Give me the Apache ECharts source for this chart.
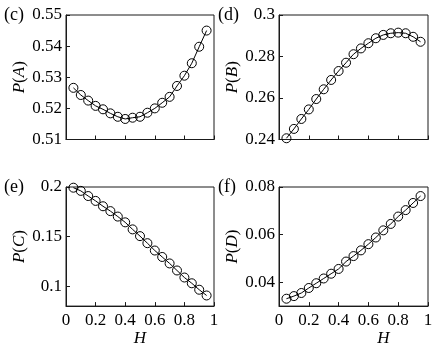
<!DOCTYPE html>
<html>
<head>
<meta charset="utf-8">
<script src="https://cdn.jsdelivr.net/npm/echarts@6/dist/echarts.min.js"></script>
<style>html,body{margin:0;padding:0;background:#fff;}#c{width:436px;height:348px;}</style>
</head>
<body>
<div id="c"></div>
<script>
// Data
const H = [0.05,0.10,0.15,0.20,0.25,0.30,0.35,0.40,0.45,0.50,0.55,0.60,0.65,0.70,0.75,0.80,0.85,0.90,0.95];
const pA = [0.5266,0.5243,0.5225,0.5208,0.5197,0.5184,0.5173,0.5166,0.5170,0.5173,0.5186,0.5200,0.5218,0.5237,0.5272,0.5305,0.5345,0.5398,0.5450];
const pB = [0.2406,0.2451,0.2499,0.2545,0.2595,0.2642,0.2687,0.2730,0.2770,0.2811,0.2839,0.2864,0.2888,0.2904,0.2912,0.2915,0.2912,0.2895,0.2871];
const pC = [0.1993,0.1961,0.1909,0.1860,0.1806,0.1757,0.1702,0.1644,0.1573,0.1505,0.1434,0.1360,0.1295,0.1230,0.1159,0.1088,0.1030,0.0965,0.0907];
const pD = [0.0331,0.0342,0.0355,0.0376,0.0396,0.0416,0.0436,0.0456,0.0487,0.0510,0.0534,0.0560,0.0588,0.0618,0.0645,0.0676,0.0703,0.0733,0.0762];

const xTicks = [0,0.2,0.4,0.6,0.8,1];
const yTicksA = [0.51,0.52,0.53,0.54,0.55];
const yTicksB = [0.24,0.26,0.28,0.30];
const yTicksC = [0.10,0.15,0.20];
const yTicksD = [0.04,0.06,0.08];
const panelLabels = ['(c)','(d)','(e)','(f)'];
const yNames = ['A','B','C','D'];

const FONT = 'Liberation Serif';
const FS = 17;
const AX = '#1a1a1a';

const grids = [
  {left:66, top:15, width:148, height:124.5},
  {left:279, top:15, width:149, height:124.5},
  {left:66, top:187, width:148, height:124},
  {left:279, top:187, width:149, height:124}
];
const yRanges = [[0.51,0.55],[0.24,0.30],[0.08,0.20],[0.03,0.08]];
const yTicks = [yTicksA,yTicksB,yTicksC,yTicksD];
const series = [pA,pB,pC,pD];

function fmt(v){ return String(+v.toFixed(3)); }

const option = {
  animation:false,
  backgroundColor:'#fff',
  grid: grids.map(g => Object.assign({show:true, borderColor:AX, borderWidth:1, backgroundColor:'transparent', containLabel:false}, g)),
  xAxis: grids.map((g,i) => ({
    type:'value', gridIndex:i, min:0, max:1,
    axisLine:{show:true, lineStyle:{color:AX, width:1}},
    axisTick:{show:true, inside:true, length:4, lineStyle:{color:AX}, customValues:xTicks},
    axisLabel:{show:i>=2, customValues:xTicks, formatter:fmt, color:'#000', fontFamily:FONT, fontSize:FS, margin:6},
    splitLine:{show:false},
    name: i>=2 ? 'H' : '',
    nameLocation:'middle', nameGap:22,
    nameTextStyle:{fontFamily:FONT, fontSize:FS, fontStyle:'italic', color:'#000', padding: i===3 ? [0,0,0,60] : 0}
  })),
  yAxis: grids.map((g,i) => ({
    type:'value', gridIndex:i, min:yRanges[i][0], max:yRanges[i][1],
    axisLine:{show:true, lineStyle:{color:AX, width:1}},
    axisTick:{show:true, inside:true, length:4, lineStyle:{color:AX}, customValues:yTicks[i]},
    axisLabel:{customValues:yTicks[i], formatter:fmt, color:'#000', fontFamily:FONT, fontSize:FS, margin:4},
    splitLine:{show:false},
    name:'{i|P}(' + '{i|' + yNames[i] + '})',
    nameLocation:'middle', nameGap:34,
    nameTextStyle:{fontFamily:FONT, fontSize:FS, color:'#000',
      rich:{i:{fontFamily:FONT, fontSize:FS, fontStyle:'italic', color:'#000'}}}
  })),
  series: series.map((arr,i) => ({
    type:'line', xAxisIndex:i, yAxisIndex:i,
    data: H.map((h,k) => [h, arr[k]]),
    symbol:'circle', symbolSize:9,
    itemStyle:{color:'rgba(0,0,0,0)', borderColor:'#000', borderWidth:1},
    lineStyle:{color:'#000', width:1},
    emphasis:{disabled:true}
  })),
  graphic: panelLabels.map((t,i) => ({
    type:'text',
    x: i%2===0 ? 4 : 218,
    y: i<2 ? 15 : 187,
    style:{text:t, fontFamily:FONT, fontSize:FS+1, fill:'#000', verticalAlign:'middle', align:'left'}
  }))
};

const chart = echarts.init(document.getElementById('c'), null, {renderer:'canvas'});
chart.setOption(option);
</script>
</body>
</html>
